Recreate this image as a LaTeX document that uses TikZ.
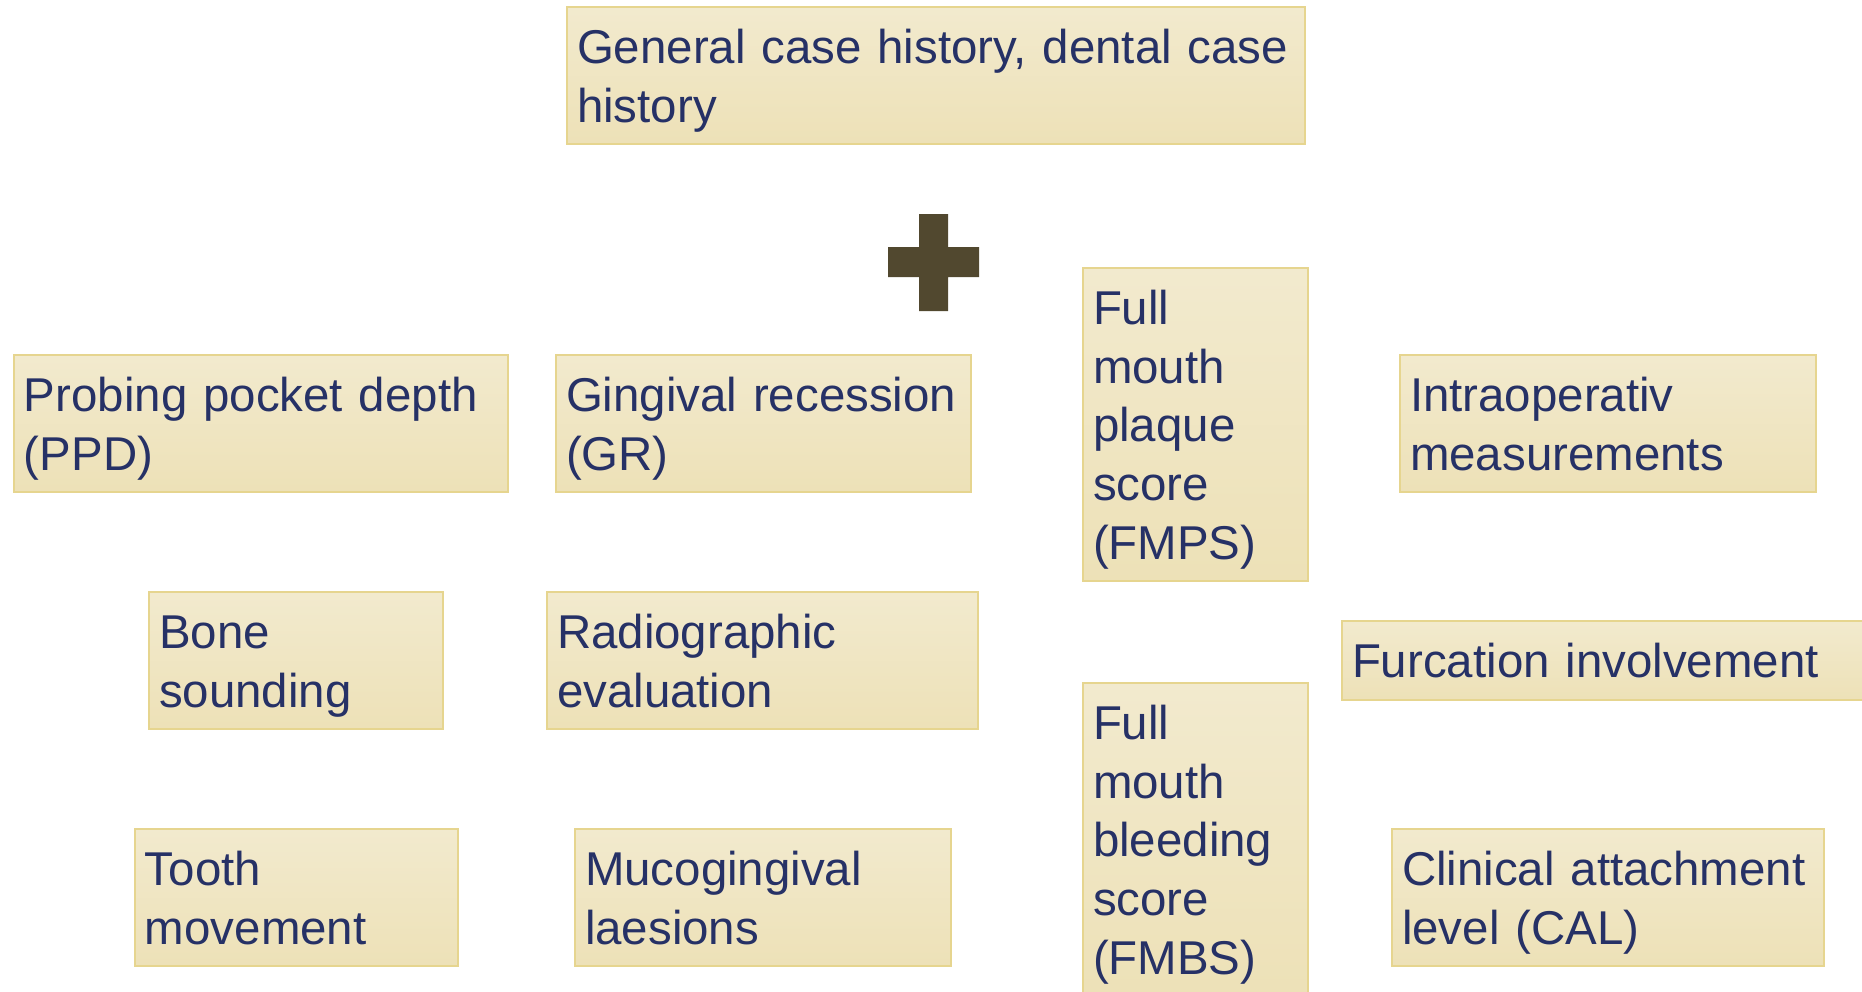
\documentclass[tikz,border=0pt]{standalone}
\usepackage{fontspec}
\setmainfont{Liberation Sans}
\usepackage{tikz}
\usetikzlibrary{positioning}
\usepackage{xcolor}

\definecolor{boxtop}{HTML}{F2EACE}
\definecolor{boxbot}{HTML}{EDE1B7}
\definecolor{boxline}{HTML}{E6D58F}
\definecolor{ink}{HTML}{263166}
\definecolor{plusc}{HTML}{51482F}

\begin{document}
\begin{tikzpicture}[
  x=0.1mm, y=-0.1mm,
  box/.style = {draw=boxline, line width=0.2mm, top color=boxtop, bottom color=boxbot,
                anchor=north west, inner xsep=1mm, inner ysep=0pt,
                align=left, text=ink, text width=#1,
                font=\fontsize{13.5pt}{16.65pt}\selectfont,
                execute at begin node={\rule{0pt}{1.2em}},
                execute at end node={\rule[-0.46em]{0pt}{0pt}}},
  plus/.style= {fill=plusc},
]
\clip (0,0) rectangle (1862,992);

% ========== Case history (top) ==========
\node[box=71.8mm] (hist) at (566,6) {General case history, dental case\\history};

% plus sign
\fill[plus] (919,214) -- (948,214) -- (948,247) -- (979,247) -- (979,277)
  -- (948,277) -- (948,311) -- (919,311) -- (919,277) -- (888,277)
  -- (888,247) -- (919,247) -- cycle;

% ========== First row ==========
\node[box=47.4mm] (ppd)   at (13,354)   {Probing pocket depth\\(PPD)};
\node[box=39.5mm] (gr)    at (555,354)  {Gingival recession\\(GR)};
\node[box=20.5mm] (fmps)  at (1082,267) {Full\\mouth\\plaque\\score\\(FMPS)};
\node[box=39.6mm] (intra) at (1399,354) {Intraoperativ\\measurements};

% ========== Second row ==========
\node[box=27.4mm] (bone)  at (148,591)  {Bone\\sounding};
\node[box=41.1mm] (radio) at (546,591)  {Radiographic\\evaluation};
\node[box=54mm]   (furc)  at (1341,620) {Furcation involvement};

% ========== Third row ==========
\node[box=30.3mm] (tooth) at (134,828)  {Tooth\\movement};
\node[box=35.6mm] (muco)  at (574,828)  {Mucogingival\\laesions};
\node[box=20.5mm] (fmbs)  at (1082,682) {Full\\mouth\\bleeding\\score\\(FMBS)};
\node[box=41.2mm] (cal)   at (1391,828) {Clinical attachment\\level (CAL)};

\end{tikzpicture}
\end{document}
